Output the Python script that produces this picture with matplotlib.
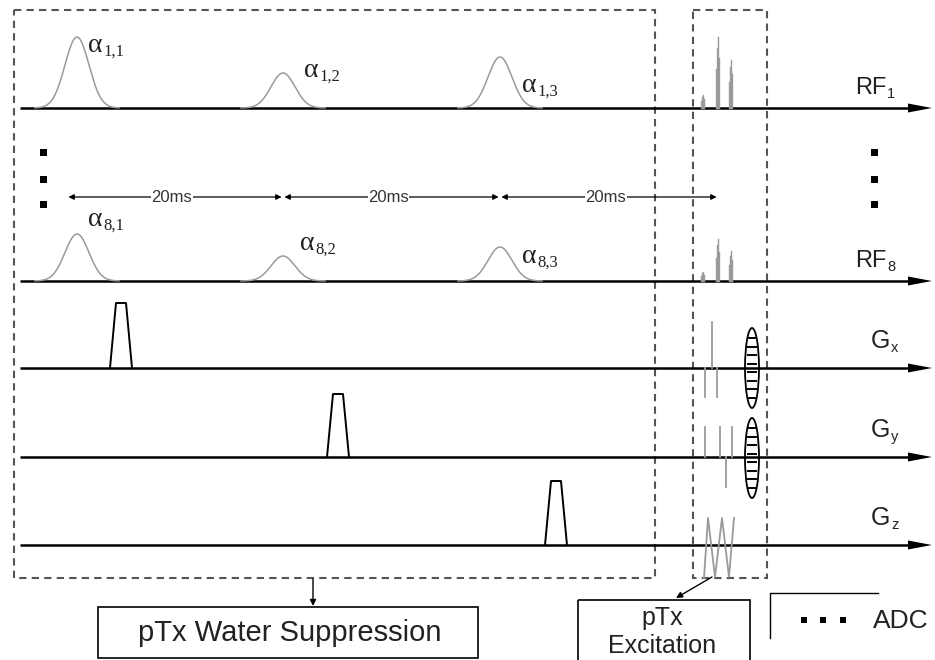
import numpy as np
import matplotlib
matplotlib.use("Agg")
import matplotlib.pyplot as plt
from matplotlib.patches import Rectangle, Ellipse

# channel baselines (pixel rows of the drawing)
channels = ["RF1", "RF8", "Gx", "Gy", "Gz"]
baseline = [108, 281, 368, 457, 545]
labels_main = ["RF", "RF", "G", "G", "G"]
labels_sub = ["1", "8", "x", "y", "z"]
label_x = [855, 855, 871, 871, 871]

# water suppression pulses (every 20 ms)
pulse_pos = [77, 283, 500]
rf1_amp = [71, 35, 51]
rf8_amp = [47, 25, 34]
pulse_sigma = 12
rf1_names = ["1,1", "1,2", "1,3"]
rf8_names = ["8,1", "8,2", "8,3"]
rf1_lab_xy = [(88, 52), (304, 77), (522, 92)]
rf8_lab_xy = [(88, 226), (300, 250), (522, 263)]
spacing_ms = ["20ms", "20ms", "20ms"]
spacing_edges = [67, 283, 500, 718]

# spoiler gradients (one per axis, after each pulse)
spoil_pos = [121, 338, 556]
spoil_height = [65, 63, 64]

# pTx excitation
ptx_rf_x = [702, 717, 730]
ptx_rf1_h = [13, 71, 48]
ptx_rf8_h = [9, 42, 30]
ptx_gx_x = [705, 712, 717]
ptx_gx_h = [-29, 46, -29]
ptx_gy_x = [705, 720, 726, 732]
ptx_gy_h = [30, 30, -30, 30]
ptx_gz_x = [704, 708, 715, 722, 729, 734]
ptx_gz_y = [578, 518, 577, 518, 577, 518]
adc_x = 752
adc_y = [368, 458]

plt.rcParams['font.family'] = ['Liberation Sans', 'DejaVu Sans']
fig = plt.figure(figsize=(9.35, 6.6), dpi=100)
ax = fig.add_axes([0, 0, 1, 1])
ax.set_xlim(0, 935)
ax.set_ylim(660, 0)
ax.axis('off')
renderer = fig.canvas.get_renderer()

gray = '#9a9a9a'
dash = '#555555'


def sub_label(x, y, main, sub, family, size, subsize, dy=5):
    t = ax.text(x, y, main, family=family, fontsize=size, ha='left', va='baseline', color='#222222')
    bb = t.get_window_extent(renderer)
    x_end = ax.transData.inverted().transform((bb.x1, bb.y0))[0]
    ax.text(x_end + 0.5, y + dy, sub, family=family, fontsize=subsize, ha='left', va='baseline', color='#222222')


# baselines with arrows
for b, m, s, lx in zip(baseline, labels_main, labels_sub, label_x):
    ax.plot([20, 912], [b, b], color='black', lw=1.8, solid_capstyle='butt')
    ax.fill([908, 932, 908], [b - 4.5, b, b + 4.5], color='black', lw=0)
    if m == "RF":
        sub_label(lx, b - 14, m, s, 'Liberation Sans', 17, 10.5, 4)
    else:
        sub_label(lx, b - 20, m, s, 'Liberation Sans', 18, 10.5, 4)

# gaussian RF pulses
for c, a1, a8 in zip(pulse_pos, rf1_amp, rf8_amp):
    xs = np.linspace(c - 42, c + 42, 200)
    g = np.exp(-0.5 * ((xs - c) / pulse_sigma) ** 2)
    ax.plot(xs, baseline[0] - a1 * g, color=gray, lw=1.1)
    ax.plot(xs, baseline[1] - a8 * g, color=gray, lw=1.1)
for (lx, ly), n in zip(rf1_lab_xy, rf1_names):
    sub_label(lx, ly, 'α', n, 'Liberation Serif', 20, 12, 4)
for (lx, ly), n in zip(rf8_lab_xy, rf8_names):
    sub_label(lx, ly, 'α', n, 'Liberation Serif', 20, 12, 4)

# 20 ms spacing arrows
ys = 197
for i, lab in enumerate(spacing_ms):
    x0, x1 = spacing_edges[i], spacing_edges[i + 1]
    ax.annotate('', xy=(x0, ys), xytext=(x1, ys),
                arrowprops=dict(arrowstyle='<|-|>', color='black', lw=0.9, mutation_scale=8, shrinkA=1, shrinkB=1))
    ax.text((x0 + x1) / 2 - 3, ys, lab, fontsize=12, ha='center', va='center', color='#333333',
            bbox=dict(facecolor='white', edgecolor='none', pad=0.3))

# ellipsis dots
for yy in [153, 180, 205]:
    ax.add_patch(Rectangle((40, yy - 4), 7, 7, color='black', lw=0))
    ax.add_patch(Rectangle((871, yy - 4), 7, 7, color='black', lw=0))

# spoiler trapezoids
for p, h, b in zip(spoil_pos, spoil_height, baseline[2:]):
    ax.plot([p - 11, p - 5, p + 5, p + 11], [b, b - h, b - h, b], color='black', lw=1.4)

# pTx RF spikes
for x, h1, h8 in zip(ptx_rf_x, ptx_rf1_h, ptx_rf8_h):
    for dx, f in [(-1.5, 0.55), (-0.5, 0.85), (0.5, 1.0), (1.5, 0.7)]:
        ax.plot([x + dx, x + dx], [baseline[0], baseline[0] - h1 * f], color=gray, lw=1)
        ax.plot([x + dx, x + dx], [baseline[1], baseline[1] - h8 * f], color=gray, lw=1)

for x, h in zip(ptx_gx_x, ptx_gx_h):
    ax.plot([x, x], [baseline[2], baseline[2] - h], color=gray, lw=1.3)
for x, h in zip(ptx_gy_x, ptx_gy_h):
    ax.plot([x, x], [baseline[3], baseline[3] - h], color=gray, lw=1.3)
ax.plot(ptx_gz_x, ptx_gz_y, color=gray, lw=1.3)

# ADC readouts
for yc in adc_y:
    ax.add_patch(Ellipse((adc_x, yc), 14, 80, fill=False, edgecolor='black', lw=1.3))
    for k in np.linspace(-30, 30, 8):
        w = 4.5 * np.sqrt(1 - (k / 40) ** 2)
        ax.plot([adc_x - w, adc_x + w], [yc + k, yc + k], color='black', lw=1.4)

# dashed boxes
ax.add_patch(Rectangle((14, 10), 641, 568, fill=False, edgecolor=dash, lw=1.5, linestyle=(0, (3.5, 2.5))))
ax.add_patch(Rectangle((693, 10), 74, 568, fill=False, edgecolor=dash, lw=1.5, linestyle=(0, (3.5, 2.5))))

# labels below
ax.add_patch(Rectangle((98, 607), 380, 51, fill=False, edgecolor='black', lw=1.2))
ax.text(290, 633, 'pTx Water Suppression', fontsize=21, ha='center', va='center', color='#222222')
ax.annotate('', xy=(313, 606), xytext=(313, 579),
            arrowprops=dict(arrowstyle='-|>', color='black', lw=1, mutation_scale=9, shrinkA=0, shrinkB=0))

ax.add_patch(Rectangle((578, 600), 172, 62, fill=False, edgecolor='black', lw=1.2, clip_on=False))
ax.text(662, 618, 'pTx', fontsize=18, ha='center', va='center', color='#222222')
ax.text(662, 646, 'Excitation', fontsize=18, ha='center', va='center', color='#222222')
ax.annotate('', xy=(676, 598), xytext=(712, 577),
            arrowprops=dict(arrowstyle='-|>', color='black', lw=1, mutation_scale=9, shrinkA=0, shrinkB=0))

# ADC legend
ax.plot([878, 770, 770], [593, 593, 638], color='black', lw=1)
for xx in [804, 823, 843]:
    ax.add_patch(Rectangle((xx - 3, 617), 6, 6, color='black', lw=0))
ax.text(873, 621, 'ADC', fontsize=19, ha='left', va='center', color='#222222')

fig.savefig('out.png', dpi=100)
